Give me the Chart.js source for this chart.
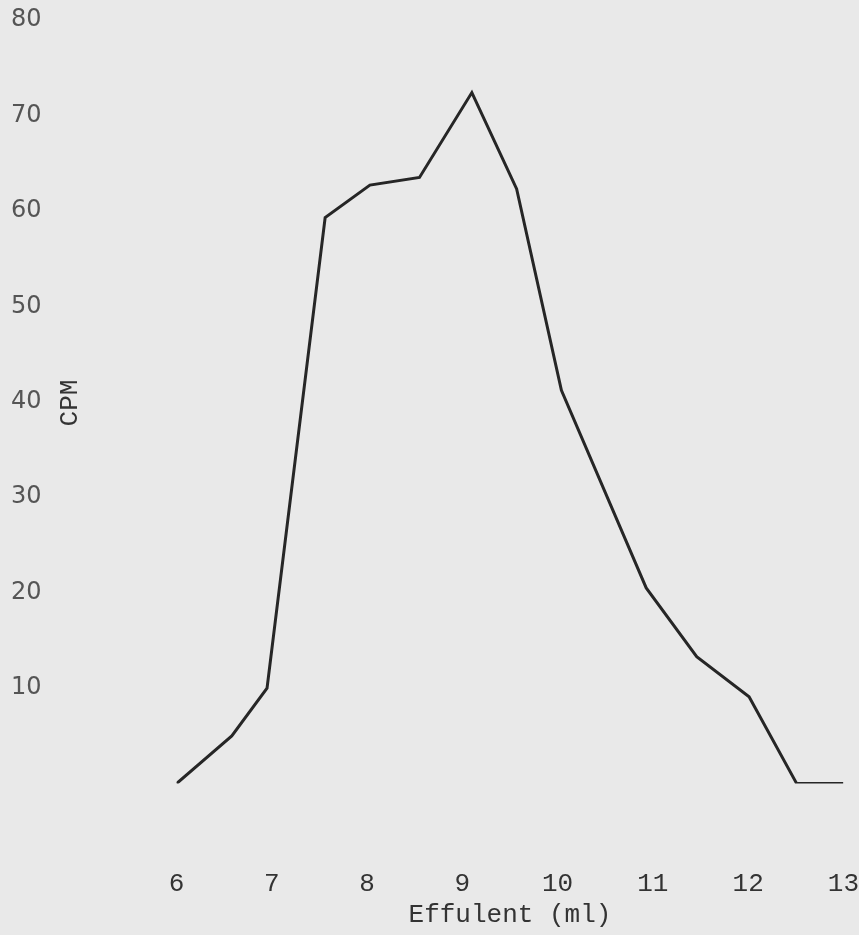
<!DOCTYPE html>
<html>
<head>
<meta charset="utf-8">
<script src="https://cdn.jsdelivr.net/npm/chart.js@4/dist/chart.umd.min.js"></script>
<style>
  html, body { margin: 0; padding: 0; background: #e9e9e9; }
  canvas { display: block; }
</style>
</head>
<body>
<canvas id="chart" width="859" height="935"></canvas>
<script>
// effluent volume (ml) and counts
const effluent = [6.0, 6.58, 6.95, 7.56, 8.03, 8.55, 9.1, 9.57, 10.04, 10.93, 11.46, 12.01, 12.51, 13.0];
const cpm = [0, 5, 10, 59.3, 62.7, 63.5, 72.4, 62.3, 41.2, 20.5, 13.3, 9.1, 0, 0];

const xTicks = [6, 7, 8, 9, 10, 11, 12, 13];
const yTicks = [10, 20, 30, 40, 50, 60, 70, 80];

const points = effluent.map((v, i) => ({ x: v, y: cpm[i] }));

const typewriter = "'Liberation Mono', 'Courier New', monospace";

// draws the CPM label between the tick numbers and the curve, like the original
const cpmLabel = {
  id: 'cpmLabel',
  afterDraw(chart) {
    const ctx = chart.ctx;
    const area = chart.chartArea;
    ctx.save();
    ctx.translate(area.left - 106, area.top + 383);
    ctx.rotate(-Math.PI / 2);
    ctx.font = "26px " + typewriter;
    ctx.fillStyle = '#333';
    ctx.textAlign = 'center';
    ctx.textBaseline = 'middle';
    ctx.fillText('CPM', 0, 0);
    ctx.restore();
  }
};

new Chart(document.getElementById('chart'), {
  type: 'line',
  data: {
    datasets: [{
      label: 'CPM',
      data: points,
      borderColor: '#262626',
      borderWidth: 3,
      pointRadius: 0,
      tension: 0,
      fill: false
    }]
  },
  options: {
    responsive: false,
    animation: false,
    layout: { padding: { left: 11, right: 15, top: 20, bottom: 0 } },
    plugins: {
      legend: { display: false },
      tooltip: { enabled: false }
    },
    scales: {
      x: {
        type: 'linear',
        min: 6,
        max: 13,
        // tick marks are hidden, tickLength only makes the gap under the plot
        grid: { display: false, drawTicks: true, tickLength: 85 },
        border: { display: false },
        afterBuildTicks: s => { s.ticks = xTicks.map(v => ({ value: v })); },
        ticks: {
          padding: 0,
          maxRotation: 0,
          color: '#333',
          font: { family: typewriter, size: 26 }
        },
        title: {
          display: true,
          text: 'Effulent (ml)',
          color: '#333',
          font: { family: typewriter, size: 26 },
          padding: { top: 0, bottom: 4 }
        }
      },
      y: {
        min: 0,
        max: 80,
        grid: { display: false, drawTicks: true, tickLength: 135 },
        border: { display: false },
        afterBuildTicks: s => { s.ticks = yTicks.map(v => ({ value: v })); },
        ticks: {
          padding: 0,
          color: '#555',
          font: { family: "'DejaVu Sans', sans-serif", size: 24 }
        }
      }
    }
  },
  plugins: [cpmLabel]
});
</script>
</body>
</html>
